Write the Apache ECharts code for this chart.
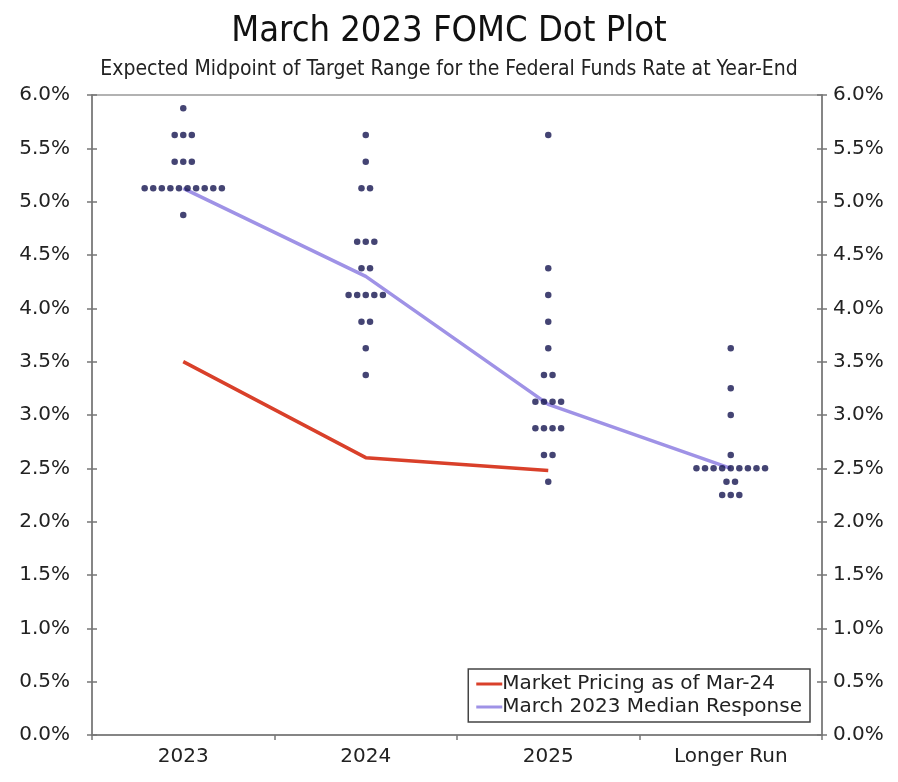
<!DOCTYPE html>
<html>
<head>
<meta charset="utf-8">
<script src="https://cdn.jsdelivr.net/npm/echarts@6/dist/echarts.min.js"></script>
<style>
  html, body { margin: 0; padding: 0; background: #fff; }
  #chart { width: 898px; height: 782px; }
</style>
</head>
<body>
<div id="chart"></div>
<script>
// categories on the x axis
var categories = ["2023", "2024", "2025", "Longer Run"];

// participant projections: [rate, number of dots] per category
var dots2023 = [[5.875, 1], [5.625, 3], [5.375, 3], [5.125, 10], [4.875, 1]];
var dots2024 = [[5.625, 1], [5.375, 1], [5.125, 2], [4.625, 3], [4.375, 2], [4.125, 5], [3.875, 2], [3.625, 1], [3.375, 1]];
var dots2025 = [[5.625, 1], [4.375, 1], [4.125, 1], [3.875, 1], [3.625, 1], [3.375, 2], [3.125, 4], [2.875, 4], [2.625, 2], [2.375, 1]];
var dotsLonger = [[3.625, 1], [3.25, 1], [3.0, 1], [2.625, 1], [2.5, 9], [2.375, 2], [2.25, 3]];

// lines
var marketPricing = [3.5, 2.6, 2.48, null];
var medianResponse = [5.125, 4.3, 3.1, 2.5];

var fontMain = "'DejaVu Sans', Verdana, sans-serif";
var fontCond = "'DejaVu Sans Condensed', 'Liberation Sans Narrow', 'DejaVu Sans', sans-serif";
var axisGray = "#777";

// spread dots of the same rate side by side around the category centre
function buildDots() {
  var out = [];
  var step = 0.047;
  [dots2023, dots2024, dots2025, dotsLonger].forEach(function (col, ci) {
    col.forEach(function (row) {
      var n = row[1];
      for (var j = 0; j < n; j++) {
        out.push([ci + 0.5 + (j - (n - 1) / 2) * step, row[0]]);
      }
    });
  });
  return out;
}

var chart = echarts.init(document.getElementById("chart"));

function yAxis(pos, inside, margin) {
  return {
    type: "value",
    position: pos,
    min: 0,
    max: 6,
    interval: 0.5,
    axisLine: { show: !inside, lineStyle: { color: axisGray, width: 1.5 } },
    axisTick: { show: true, inside: inside, length: 5, lineStyle: { color: axisGray, width: 1.5 } },
    splitLine: { show: false },
    axisLabel: {
      show: !inside,
      color: "#222",
      fontSize: 20,
      fontFamily: fontMain,
      margin: margin,
      formatter: function (v) { return v.toFixed(1) + "%"; }
    }
  };
}

function xCat(inside) {
  return {
    type: "category",
    data: categories,
    boundaryGap: true,
    axisLine: { show: !inside, lineStyle: { color: axisGray, width: 1.5 } },
    axisTick: { show: true, inside: inside, length: 5, lineStyle: { color: axisGray, width: 1.5 } },
    axisLabel: { show: !inside, color: "#222", fontSize: 20, fontFamily: fontMain, margin: 12 }
  };
}

chart.setOption({
  animation: false,
  backgroundColor: "#fff",
  title: [
    {
      text: "March 2023 FOMC Dot Plot",
      left: "center",
      top: 9,
      textStyle: { fontSize: 36, fontWeight: "normal", color: "#111", fontFamily: fontCond }
    },
    {
      text: "Expected Midpoint of Target Range for the Federal Funds Rate at Year-End",
      left: "center",
      top: 54,
      textStyle: { fontSize: 21, fontWeight: "normal", color: "#222", fontFamily: fontCond }
    }
  ],
  grid: { left: 92, right: 76, top: 95, bottom: 47, show: true, borderColor: "#999", borderWidth: 1.5 },
  legend: {
    data: ["Market Pricing as of Mar-24", "March 2023 Median Response"],
    orient: "vertical",
    right: 88,
    bottom: 60,
    icon: "rect",
    itemWidth: 26,
    itemHeight: 3,
    itemGap: 3,
    padding: [5, 8, 5, 8],
    borderColor: "#444",
    borderWidth: 1.5,
    backgroundColor: "#fff",
    textStyle: { fontSize: 20, color: "#222", fontFamily: fontMain, padding: [0, 0, 0, -5] }
  },
  xAxis: [
    xCat(false),
    { type: "value", min: 0, max: 4, show: false },
    xCat(true)
  ],
  yAxis: [
    yAxis("left", false, 22),
    yAxis("right", false, 11),
    yAxis("left", true, 0),
    yAxis("right", true, 0)
  ],
  series: [
    {
      name: "Market Pricing as of Mar-24",
      type: "line",
      xAxisIndex: 0,
      yAxisIndex: 0,
      data: marketPricing,
      symbol: "none",
      lineStyle: { color: "#d9402a", width: 3.5 },
      itemStyle: { color: "#d9402a" }
    },
    {
      name: "March 2023 Median Response",
      type: "line",
      xAxisIndex: 0,
      yAxisIndex: 0,
      data: medianResponse,
      symbol: "none",
      lineStyle: { color: "#9f92e6", width: 3.5 },
      itemStyle: { color: "#9f92e6" }
    },
    {
      name: "Participants",
      type: "scatter",
      xAxisIndex: 1,
      yAxisIndex: 0,
      data: buildDots(),
      symbolSize: 6.5,
      itemStyle: { color: "#151550" },
      z: 5
    }
  ]
});
</script>
</body>
</html>
